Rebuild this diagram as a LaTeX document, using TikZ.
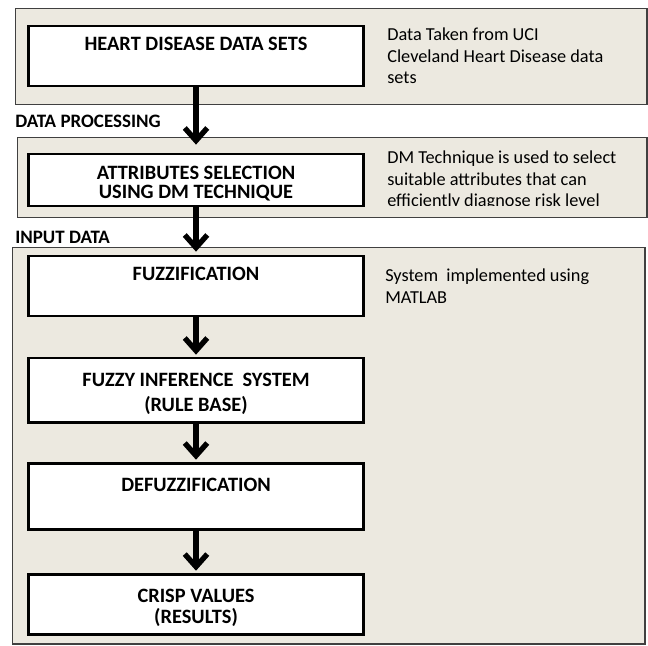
\documentclass[tikz,border=0pt]{standalone}
\usepackage{fontspec}
\setmainfont{Carlito}
\usetikzlibrary{arrows.meta, positioning}
\definecolor{panelgray}{RGB}{236,233,224}

\begin{document}
\begin{tikzpicture}[x=0.025cm, y=-0.025cm, >={Straight Barb[length=9pt,width=16pt]}, every node/.style={inner sep=0pt}]
% Define styles for panels, blocks, side notes and flow arrows
\tikzstyle{panel} = [draw=black!75, fill=panelgray, line width=1pt, rectangle, anchor=north west]
\tikzstyle{block} = [draw, fill=white, rectangle, line width=2pt, minimum width=8.375cm, align=center, font=\bfseries\fontsize{14.5}{14.5}\selectfont]
\tikzstyle{note} = [anchor=north west, align=left, font=\fontsize{13}{15.2}\selectfont]
\tikzstyle{tag} = [anchor=west, font=\bfseries\fontsize{13.5}{15}\selectfont]
\tikzstyle{flow} = [line width=3.8pt, ->]

\useasboundingbox (0,0) rectangle (648,645);

% Background panels
\node [panel, minimum width=15.775cm, minimum height=2.4cm] (datapanel) at (15,8) {};
\node [panel, minimum width=15.725cm, minimum height=2cm] (procpanel) at (17,137) {};
\node [panel, minimum width=15.8cm, minimum height=9.9cm] (fuzzypanel) at (12,247) {};

% Blocks placement
\node [block, minimum height=1.5cm] (heart) at (196,56) {HEART DISEASE DATA SETS\\[3pt]\mbox{}};
\node [block, minimum height=1.3cm, below of=heart, node distance=3.1cm] (attr) {\rule{0pt}{14pt}ATTRIBUTES SELECTION\\[-1pt]USING DM TECHNIQUE};
\node [block, minimum height=1.5cm, below of=attr, node distance=2.65cm] (fuzz) {FUZZIFICATION\\[3pt]\mbox{}};
\node [block, minimum height=1.6cm, below of=fuzz, node distance=2.6cm] (fis) {\rule{0pt}{15pt}FUZZY INFERENCE~ SYSTEM\\[3pt](RULE BASE)};
\node [block, minimum height=1.65cm, below of=fis, node distance=2.65cm] (defuzz) {DEFUZZIFICATION\\[1pt]\mbox{}};
\node [block, minimum height=1.5cm, below of=defuzz, node distance=2.7cm] (crisp) {\rule{0pt}{15pt}CRISP VALUES\\(RESULTS)};

% Stage labels between the panels
\node [tag] (proclabel) at (15,121) {DATA PROCESSING};
\node [tag] (inputlabel) at (15,237) {INPUT DATA};

% Side notes
\node [note] (datanote) at (387,28) {Data Taken from UCI\\Cleveland Heart Disease data\\sets};
\begin{scope}
\clip (380,140) rectangle (640,205); % last line is cut off by its frame
\node [note] (dmnote) at (387,151) {DM Technique is used to select\\suitable attributes that can\\efficiently diagnose risk level};
\end{scope}
\node [note] (matlabnote) at (385,269) {System~ implemented using\\MATLAB};

% Draw flow arrows
\draw[flow, shorten >=0.2cm] (heart) -- (attr);
\draw[flow, shorten >=0.075cm] (attr) -- (fuzz);
\draw[flow, shorten >=0.05cm] (fuzz) -- (fis);
\draw[flow, shorten >=0.05cm] (fis) -- (defuzz);
\draw[flow, shorten >=0.05cm] (defuzz) -- (crisp);
\end{tikzpicture}
\end{document}
